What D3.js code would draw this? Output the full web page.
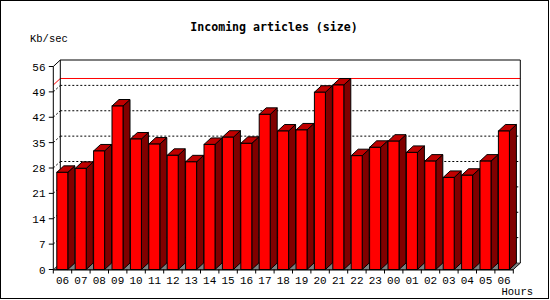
<!DOCTYPE html>
<html><head><meta charset="utf-8">
<script src="https://cdn.jsdelivr.net/npm/d3@7"></script>
<style>
html,body{margin:0;padding:0;background:#fff;}
svg{display:block;}
text{font-family:"Liberation Mono","DejaVu Sans Mono",monospace;fill:#000;}
text.title{font-family:"DejaVu Sans Mono","Liberation Mono",monospace;}
</style></head>
<body>
<script>
const hours = ["06","07","08","09","10","11","12","13","14","15","16","17","18","19","20","21","22","23","00","01","02","03","04","05","06"];
const values = [26.8,27.9,32.7,45.1,36.0,34.6,31.5,29.7,34.5,36.5,34.8,42.8,38.2,38.5,48.9,50.9,31.4,33.7,35.4,32.3,29.9,25.4,26.0,29.9,38.2];
const yTicks = [0,7,14,21,28,35,42,49,56];
const title = "Incoming articles (size)";
const yLabel = "Kb/sec";
const xLabel = "Hours";

const W = 550, H = 300;
const DX = 7, DY = 6.5;
const svg = d3.select("body").append("svg").attr("width", W).attr("height", H);

const x = d3.scaleBand().domain(d3.range(hours.length)).range([53.3, 513.3]).padding(0);
const y = d3.scaleLinear().domain([0, 56]).range([269.5, 66.5]);

const x0 = x.range()[0], x1 = x.range()[1];
const yb = y(0), yt = y(56);

svg.append("rect").attr("x",0.5).attr("y",0.5).attr("width",548).attr("height",298)
  .attr("fill","#fff").attr("stroke","#000");

// back wall
svg.append("rect").attr("x", x0+DX).attr("y", yt-DY).attr("width", x1-x0).attr("height", yb-yt)
  .attr("fill","#fff").attr("stroke","none");

// gridlines on back wall + left wall diagonals
const grid = yTicks.filter(v => v > 0 && v < 56);
svg.selectAll(".g").data(grid).enter().append("line")
  .attr("x1", x0+DX).attr("x2", x1+DX)
  .attr("y1", d => y(d)-DY).attr("y2", d => y(d)-DY)
  .attr("stroke","#000").attr("stroke-dasharray","2,2");
svg.selectAll(".gd").data(grid).enter().append("line")
  .attr("x1", x0).attr("x2", x0+DX)
  .attr("y1", d => y(d)).attr("y2", d => y(d)-DY)
  .attr("stroke","#000").attr("stroke-dasharray","2,2");

// max line
const vmax = d3.max(values);
svg.append("polyline")
  .attr("points", [[x0, y(vmax)], [x0+DX, y(vmax)-DY], [x1+DX, y(vmax)-DY]].map(p=>p.join(",")).join(" "))
  .attr("fill","none").attr("stroke","#ff0000");

// frame of back wall
svg.append("polyline")
  .attr("points", [[x0+DX, yb-DY], [x0+DX, yt-DY], [x1+DX, yt-DY], [x1+DX, yb-DY], [x1, yb]].map(p=>p.join(",")).join(" "))
  .attr("fill","none").attr("stroke","#000");
svg.append("line").attr("x1", x0).attr("y1", yt).attr("x2", x0+DX).attr("y2", yt-DY).attr("stroke","#000");

// floor
svg.append("polygon")
  .attr("points", [[x0, yb], [x0+DX, yb-DY], [x1+DX, yb-DY], [x1, yb]].map(p=>p.join(",")).join(" "))
  .attr("fill","#808080").attr("stroke","#000").attr("stroke-width",0.6);

// bars
const off = 3.5, bw = 11;
const bars = svg.selectAll(".bar").data(values).enter().append("g");
bars.append("polygon") // side
  .attr("points", (d,i) => {
    const xr = x(i)+off+bw, ty = y(d);
    return [[xr, ty], [xr+DX, ty-DY], [xr+DX, yb-DY], [xr, yb]].map(p=>p.join(",")).join(" ");
  })
  .attr("fill","#800000").attr("stroke","#000");
bars.append("polygon") // top
  .attr("points", (d,i) => {
    const xl = x(i)+off, xr = xl+bw, ty = y(d);
    return [[xl, ty], [xl+DX, ty-DY], [xr+DX, ty-DY], [xr, ty]].map(p=>p.join(",")).join(" ");
  })
  .attr("fill","#c00000").attr("stroke","#000");
bars.append("rect") // front
  .attr("x", (d,i) => x(i)+off).attr("y", d => y(d))
  .attr("width", bw).attr("height", d => yb - y(d))
  .attr("fill","#ff0000").attr("stroke","#000");

// y axis
svg.append("line").attr("x1", x0).attr("x2", x0).attr("y1", yt).attr("y2", yb).attr("stroke","#000");
svg.selectAll(".yt").data(yTicks).enter().append("line")
  .attr("x1", x0-4.5).attr("x2", x0).attr("y1", d => y(d)).attr("y2", d => y(d)).attr("stroke","#000");
svg.selectAll(".yl").data(yTicks).enter().append("text")
  .attr("x", 45.5).attr("y", d => y(d)+4).attr("text-anchor","end")
  .style("font-size","11px").text(d => d);

// x axis
svg.append("line").attr("x1", x0).attr("x2", x1).attr("y1", yb+0.5).attr("y2", yb+0.5).attr("stroke","#000");
svg.selectAll(".xt").data(d3.range(hours.length+1)).enter().append("line")
  .attr("x1", i => x0 + i*x.bandwidth()).attr("x2", i => x0 + i*x.bandwidth())
  .attr("y1", yb).attr("y2", yb+4).attr("stroke","#000");
svg.selectAll(".xl").data(hours).enter().append("text")
  .attr("x", (d,i) => x(i) + x.bandwidth()/2).attr("y", 284)
  .attr("text-anchor","middle").style("font-size","11px").text(d => d);

// labels
svg.append("text").attr("class","title").attr("x", 274).attr("y", 31).attr("text-anchor","middle")
  .style("font-size","11.6px").style("font-weight","bold").text(title);
svg.append("text").attr("x", 30).attr("y", 42).style("font-size","10.5px").text(yLabel);
svg.append("text").attr("x", 533).attr("y", 295).attr("text-anchor","end").style("font-size","10.5px").text(xLabel);
</script>
</body></html>
